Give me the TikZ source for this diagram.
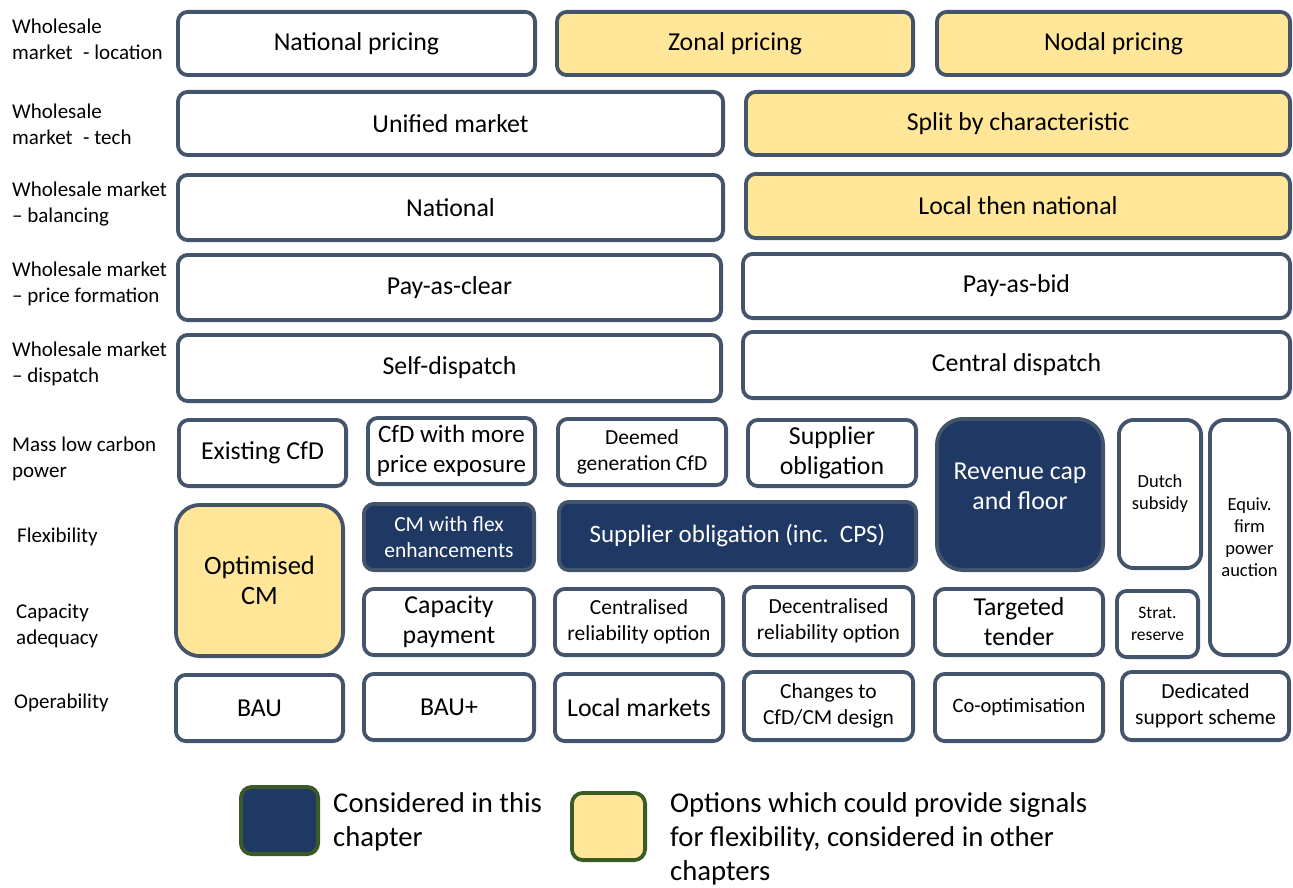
\documentclass[tikz,border=0pt]{standalone}
\usepackage{fontspec}
\setmainfont{Carlito}
\definecolor{edge}{HTML}{44546A}
\definecolor{navy}{HTML}{203864}
\definecolor{sand}{HTML}{FFE699}
\definecolor{moss}{HTML}{3A5A26}
\newcommand{\fs}[2]{\fontsize{#1}{#2}\selectfont}
% box from outer corner (x1,y1) to (x2,y2) in pixel units
\newcommand{\bx}[7]{%
  \pgfmathsetmacro\bw{#5-#3-3.8}\pgfmathsetmacro\bh{#6-#4-3.8}%
  \pgfmathsetmacro\bcx{(#3+#5)/2}\pgfmathsetmacro\bcy{(#4+#6)/2}%
  \node[#1, minimum width=\bw pt, minimum height=\bh pt] (#2) at (\bcx,\bcy) {#7};}
\begin{document}
\begin{tikzpicture}[x=1pt,y=-1pt,
  opt/.style={draw=edge, line width=3.8pt, rounded corners=10pt, fill=white,
    inner sep=1pt, align=center, font=\fs{25.8}{30}},
  warm/.style={opt, fill=sand},
  dark/.style={opt, fill=navy, text=white},
  small/.style={font=\fs{21.5}{26}},
  tiny/.style={font=\fs{18.5}{22}},
  rowlab/.style={anchor=west, align=left, inner sep=0pt, font=\fs{21}{26}},
  key/.style={draw=moss, line width=3.8pt, rounded corners=11pt},
  keytext/.style={anchor=west, align=left, inner sep=0pt, font=\fs{28.7}{34}}]
\useasboundingbox (0,0) rectangle (1293,888);

% row labels
\node[rowlab] (l1) at (12,39)    {Wholesale\\market\hspace{0.28em} - location};
\node[rowlab] (l2) at (12,124.5) {Wholesale\\market\hspace{0.28em} - tech};
\node[rowlab] (l3) at (12,204)   {Wholesale market\\-- balancing};
\node[rowlab] (l4) at (12,284)   {Wholesale market\\-- price formation};
\node[rowlab] (l5) at (12,364)   {Wholesale market\\-- dispatch};
\node[rowlab] (l6) at (12,458.5) {Mass low carbon\\power};
\node[rowlab] (l7) at (17,537)   {Flexibility};
\node[rowlab] (l8) at (16,625.5) {Capacity\\adequacy};
\node[rowlab] (l9) at (14,703)   {Operability};

% wholesale market options
\bx{opt}{np}{176}{10}{537}{77}{National pricing}
\bx{warm}{zp}{555}{10}{915}{77}{Zonal pricing}
\bx{warm}{ndp}{935}{10}{1292}{77}{Nodal pricing}
\bx{opt}{um}{176}{90}{725}{157}{Unified market}
\bx{warm}{sbc}{744}{90}{1292}{157}{Split by characteristic}
\bx{opt}{nat}{176}{173}{725}{242}{National}
\bx{warm}{ltn}{744}{172}{1292}{240}{Local then national}
\bx{opt}{pac}{176}{253}{723}{322}{Pay-as-clear}
\bx{opt}{pab}{741}{252}{1292}{320}{Pay-as-bid}
\bx{opt}{sd}{176}{333}{723}{403}{Self-dispatch}
\bx{opt}{cd}{741}{330}{1292}{400}{Central dispatch}

% mass low carbon power
\bx{opt}{ecfd}{177}{418}{348}{488}{Existing CfD}
\bx{opt,font=\fs{25}{30}}{cfdm}{366}{416}{537}{486}{CfD with more\\price exposure}
\bx{opt,small}{dgc}{556}{417}{728}{487}{Deemed\\generation CfD}
\bx{opt}{so}{746}{418}{918}{488}{Supplier\\obligation}
\bx{dark,rounded corners=26pt}{rcf}{935}{417}{1105}{572}{Revenue cap\\and floor\\[-14pt]\mbox{}}
\bx{opt,tiny,rounded corners=15pt}{dutch}{1117}{418}{1203}{570}{Dutch\\subsidy}
\bx{opt,tiny,rounded corners=15pt}{equiv}{1208}{418}{1291}{657}{Equiv.\\firm\\power\\auction}

% flexibility
\bx{warm,rounded corners=24pt,font=\fs{26.5}{30}}{ocm}{174}{503}{345}{658}{Optimised\\CM}
\bx{dark,small}{cmf}{362}{502}{536}{572}{CM with flex\\enhancements}
\bx{dark,font=\fs{25}{30}}{soc}{557}{500}{918}{572}{Supplier obligation (inc.\ \ CPS)}

% capacity adequacy
\bx{opt}{cp}{362}{587}{536}{657}{Capacity\\payment}
\bx{opt,small}{cro}{553}{587}{725}{657}{Centralised\\reliability option}
\bx{opt,small}{dro}{742}{585}{915}{657}{Decentralised\\reliability option}
\bx{opt}{tt}{933}{587}{1105}{657}{Targeted\\tender}
\bx{opt,font=\fs{17.5}{22}}{sr}{1115}{589}{1200}{659}{Strat.\\reserve}

% operability
\bx{opt}{bau}{174}{673}{345}{743}{BAU}
\bx{opt}{baup}{362}{672}{536}{742}{BAU+}
\bx{opt}{lm}{553}{672}{725}{743}{Local markets}
\bx{opt,font=\fs{20.5}{26}}{coo}{933}{672}{1105}{743}{Co-optimisation}
\bx{opt,small}{ch}{742}{670}{915}{742}{Changes to\\CfD/CM design}
\bx{opt,small}{ded}{1120}{670}{1291}{742}{Dedicated\\support scheme}

% key
\bx{key,fill=navy}{k1}{239}{785}{320}{856}{}
\bx{key,fill=sand}{k2}{570}{791}{647}{862}{}
\node[keytext] (t1) at (333,821.5) {Considered in this\\chapter};
\node[keytext] (t2) at (670,838.5) {Options which could provide signals\\for flexibility, considered in other\\chapters};
\end{tikzpicture}
\end{document}
